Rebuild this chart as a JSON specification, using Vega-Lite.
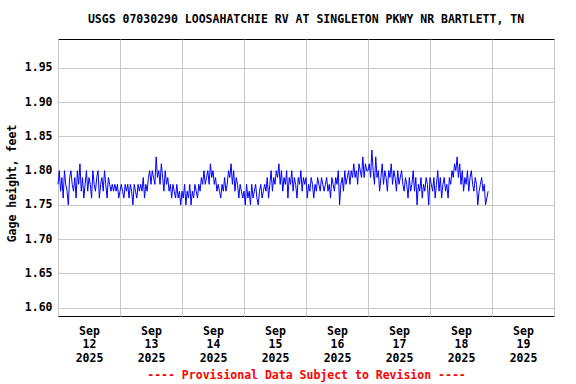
{
"$schema": "https://vega.github.io/schema/vega-lite/v6.json",
"width": 496, "height": 277,
"autosize": "none",
"padding": {"left": 58, "top": 39, "right": 22, "bottom": 68},
"background": "white",
"title": {"text": "USGS 07030290 LOOSAHATCHIE RV AT SINGLETON PKWY NR BARTLETT, TN", "font": "DejaVu Sans Mono", "fontSize": 11.5, "fontWeight": "bold", "color": "black", "anchor": "middle", "baseline": "middle", "offset": 8},
"config": {"view": {"stroke": "black", "strokeWidth": 1}},
"data": {"values": [
{"t":"2025-09-12T00:00","v":1.78},{"t":"2025-09-12T00:30","v":1.80},{"t":"2025-09-12T01:00","v":1.77},{"t":"2025-09-12T01:30","v":1.79},{"t":"2025-09-12T02:00","v":1.76},{"t":"2025-09-12T02:30","v":1.80},{"t":"2025-09-12T03:00","v":1.78},{"t":"2025-09-12T03:30","v":1.77},{"t":"2025-09-12T04:00","v":1.75},{"t":"2025-09-12T04:30","v":1.79},{"t":"2025-09-12T05:00","v":1.80},{"t":"2025-09-12T05:30","v":1.78},{"t":"2025-09-12T06:00","v":1.77},{"t":"2025-09-12T06:30","v":1.79},{"t":"2025-09-12T07:00","v":1.76},{"t":"2025-09-12T07:30","v":1.80},{"t":"2025-09-12T08:00","v":1.78},{"t":"2025-09-12T08:30","v":1.81},{"t":"2025-09-12T09:00","v":1.77},{"t":"2025-09-12T09:30","v":1.79},{"t":"2025-09-12T10:00","v":1.76},{"t":"2025-09-12T10:30","v":1.78},{"t":"2025-09-12T11:00","v":1.80},{"t":"2025-09-12T11:30","v":1.77},{"t":"2025-09-12T12:00","v":1.79},{"t":"2025-09-12T12:30","v":1.78},{"t":"2025-09-12T13:00","v":1.76},{"t":"2025-09-12T13:30","v":1.80},{"t":"2025-09-12T14:00","v":1.78},{"t":"2025-09-12T14:30","v":1.77},{"t":"2025-09-12T15:00","v":1.79},{"t":"2025-09-12T15:30","v":1.80},{"t":"2025-09-12T16:00","v":1.76},{"t":"2025-09-12T16:30","v":1.78},{"t":"2025-09-12T17:00","v":1.79},{"t":"2025-09-12T17:30","v":1.77},{"t":"2025-09-12T18:00","v":1.80},{"t":"2025-09-12T18:30","v":1.78},{"t":"2025-09-12T19:00","v":1.76},{"t":"2025-09-12T19:30","v":1.79},{"t":"2025-09-12T20:00","v":1.78},{"t":"2025-09-12T20:30","v":1.77},{"t":"2025-09-12T21:00","v":1.78},{"t":"2025-09-12T21:30","v":1.77},{"t":"2025-09-12T22:00","v":1.78},{"t":"2025-09-12T22:30","v":1.77},{"t":"2025-09-12T23:00","v":1.78},{"t":"2025-09-12T23:30","v":1.76},
{"t":"2025-09-13T00:00","v":1.77},{"t":"2025-09-13T00:30","v":1.78},{"t":"2025-09-13T01:00","v":1.77},{"t":"2025-09-13T01:30","v":1.76},{"t":"2025-09-13T02:00","v":1.78},{"t":"2025-09-13T02:30","v":1.77},{"t":"2025-09-13T03:00","v":1.78},{"t":"2025-09-13T03:30","v":1.76},{"t":"2025-09-13T04:00","v":1.78},{"t":"2025-09-13T04:30","v":1.77},{"t":"2025-09-13T05:00","v":1.75},{"t":"2025-09-13T05:30","v":1.78},{"t":"2025-09-13T06:00","v":1.77},{"t":"2025-09-13T06:30","v":1.76},{"t":"2025-09-13T07:00","v":1.78},{"t":"2025-09-13T07:30","v":1.77},{"t":"2025-09-13T08:00","v":1.78},{"t":"2025-09-13T08:30","v":1.77},{"t":"2025-09-13T09:00","v":1.79},{"t":"2025-09-13T09:30","v":1.76},{"t":"2025-09-13T10:00","v":1.78},{"t":"2025-09-13T10:30","v":1.77},{"t":"2025-09-13T11:00","v":1.79},{"t":"2025-09-13T11:30","v":1.80},{"t":"2025-09-13T12:00","v":1.78},{"t":"2025-09-13T12:30","v":1.80},{"t":"2025-09-13T13:00","v":1.79},{"t":"2025-09-13T13:30","v":1.78},{"t":"2025-09-13T14:00","v":1.82},{"t":"2025-09-13T14:30","v":1.79},{"t":"2025-09-13T15:00","v":1.80},{"t":"2025-09-13T15:30","v":1.78},{"t":"2025-09-13T16:00","v":1.81},{"t":"2025-09-13T16:30","v":1.79},{"t":"2025-09-13T17:00","v":1.77},{"t":"2025-09-13T17:30","v":1.80},{"t":"2025-09-13T18:00","v":1.78},{"t":"2025-09-13T18:30","v":1.79},{"t":"2025-09-13T19:00","v":1.77},{"t":"2025-09-13T19:30","v":1.78},{"t":"2025-09-13T20:00","v":1.76},{"t":"2025-09-13T20:30","v":1.78},{"t":"2025-09-13T21:00","v":1.77},{"t":"2025-09-13T21:30","v":1.76},{"t":"2025-09-13T22:00","v":1.78},{"t":"2025-09-13T22:30","v":1.76},{"t":"2025-09-13T23:00","v":1.77},{"t":"2025-09-13T23:30","v":1.75},
{"t":"2025-09-14T00:00","v":1.77},{"t":"2025-09-14T00:30","v":1.76},{"t":"2025-09-14T01:00","v":1.78},{"t":"2025-09-14T01:30","v":1.75},{"t":"2025-09-14T02:00","v":1.77},{"t":"2025-09-14T02:30","v":1.76},{"t":"2025-09-14T03:00","v":1.78},{"t":"2025-09-14T03:30","v":1.75},{"t":"2025-09-14T04:00","v":1.77},{"t":"2025-09-14T04:30","v":1.76},{"t":"2025-09-14T05:00","v":1.78},{"t":"2025-09-14T05:30","v":1.77},{"t":"2025-09-14T06:00","v":1.76},{"t":"2025-09-14T06:30","v":1.78},{"t":"2025-09-14T07:00","v":1.77},{"t":"2025-09-14T07:30","v":1.79},{"t":"2025-09-14T08:00","v":1.78},{"t":"2025-09-14T08:30","v":1.80},{"t":"2025-09-14T09:00","v":1.78},{"t":"2025-09-14T09:30","v":1.79},{"t":"2025-09-14T10:00","v":1.80},{"t":"2025-09-14T10:30","v":1.78},{"t":"2025-09-14T11:00","v":1.81},{"t":"2025-09-14T11:30","v":1.79},{"t":"2025-09-14T12:00","v":1.80},{"t":"2025-09-14T12:30","v":1.78},{"t":"2025-09-14T13:00","v":1.79},{"t":"2025-09-14T13:30","v":1.77},{"t":"2025-09-14T14:00","v":1.78},{"t":"2025-09-14T14:30","v":1.77},{"t":"2025-09-14T15:00","v":1.76},{"t":"2025-09-14T15:30","v":1.78},{"t":"2025-09-14T16:00","v":1.77},{"t":"2025-09-14T16:30","v":1.79},{"t":"2025-09-14T17:00","v":1.77},{"t":"2025-09-14T17:30","v":1.78},{"t":"2025-09-14T18:00","v":1.80},{"t":"2025-09-14T18:30","v":1.79},{"t":"2025-09-14T19:00","v":1.81},{"t":"2025-09-14T19:30","v":1.78},{"t":"2025-09-14T20:00","v":1.80},{"t":"2025-09-14T20:30","v":1.77},{"t":"2025-09-14T21:00","v":1.79},{"t":"2025-09-14T21:30","v":1.78},{"t":"2025-09-14T22:00","v":1.76},{"t":"2025-09-14T22:30","v":1.78},{"t":"2025-09-14T23:00","v":1.77},{"t":"2025-09-14T23:30","v":1.76},
{"t":"2025-09-15T00:00","v":1.77},{"t":"2025-09-15T00:30","v":1.75},{"t":"2025-09-15T01:00","v":1.78},{"t":"2025-09-15T01:30","v":1.76},{"t":"2025-09-15T02:00","v":1.77},{"t":"2025-09-15T02:30","v":1.75},{"t":"2025-09-15T03:00","v":1.78},{"t":"2025-09-15T03:30","v":1.76},{"t":"2025-09-15T04:00","v":1.77},{"t":"2025-09-15T04:30","v":1.78},{"t":"2025-09-15T05:00","v":1.76},{"t":"2025-09-15T05:30","v":1.75},{"t":"2025-09-15T06:00","v":1.77},{"t":"2025-09-15T06:30","v":1.78},{"t":"2025-09-15T07:00","v":1.76},{"t":"2025-09-15T07:30","v":1.77},{"t":"2025-09-15T08:00","v":1.78},{"t":"2025-09-15T08:30","v":1.77},{"t":"2025-09-15T09:00","v":1.79},{"t":"2025-09-15T09:30","v":1.76},{"t":"2025-09-15T10:00","v":1.78},{"t":"2025-09-15T10:30","v":1.80},{"t":"2025-09-15T11:00","v":1.77},{"t":"2025-09-15T11:30","v":1.79},{"t":"2025-09-15T12:00","v":1.78},{"t":"2025-09-15T12:30","v":1.80},{"t":"2025-09-15T13:00","v":1.79},{"t":"2025-09-15T13:30","v":1.81},{"t":"2025-09-15T14:00","v":1.78},{"t":"2025-09-15T14:30","v":1.80},{"t":"2025-09-15T15:00","v":1.77},{"t":"2025-09-15T15:30","v":1.79},{"t":"2025-09-15T16:00","v":1.78},{"t":"2025-09-15T16:30","v":1.80},{"t":"2025-09-15T17:00","v":1.76},{"t":"2025-09-15T17:30","v":1.79},{"t":"2025-09-15T18:00","v":1.78},{"t":"2025-09-15T18:30","v":1.80},{"t":"2025-09-15T19:00","v":1.77},{"t":"2025-09-15T19:30","v":1.79},{"t":"2025-09-15T20:00","v":1.78},{"t":"2025-09-15T20:30","v":1.76},{"t":"2025-09-15T21:00","v":1.79},{"t":"2025-09-15T21:30","v":1.78},{"t":"2025-09-15T22:00","v":1.80},{"t":"2025-09-15T22:30","v":1.77},{"t":"2025-09-15T23:00","v":1.79},{"t":"2025-09-15T23:30","v":1.78},
{"t":"2025-09-16T00:00","v":1.79},{"t":"2025-09-16T00:30","v":1.76},{"t":"2025-09-16T01:00","v":1.78},{"t":"2025-09-16T01:30","v":1.77},{"t":"2025-09-16T02:00","v":1.79},{"t":"2025-09-16T02:30","v":1.78},{"t":"2025-09-16T03:00","v":1.76},{"t":"2025-09-16T03:30","v":1.78},{"t":"2025-09-16T04:00","v":1.77},{"t":"2025-09-16T04:30","v":1.79},{"t":"2025-09-16T05:00","v":1.78},{"t":"2025-09-16T05:30","v":1.77},{"t":"2025-09-16T06:00","v":1.79},{"t":"2025-09-16T06:30","v":1.78},{"t":"2025-09-16T07:00","v":1.77},{"t":"2025-09-16T07:30","v":1.78},{"t":"2025-09-16T08:00","v":1.79},{"t":"2025-09-16T08:30","v":1.77},{"t":"2025-09-16T09:00","v":1.78},{"t":"2025-09-16T09:30","v":1.76},{"t":"2025-09-16T10:00","v":1.79},{"t":"2025-09-16T10:30","v":1.78},{"t":"2025-09-16T11:00","v":1.77},{"t":"2025-09-16T11:30","v":1.79},{"t":"2025-09-16T12:00","v":1.78},{"t":"2025-09-16T12:30","v":1.80},{"t":"2025-09-16T13:00","v":1.75},{"t":"2025-09-16T13:30","v":1.78},{"t":"2025-09-16T14:00","v":1.79},{"t":"2025-09-16T14:30","v":1.77},{"t":"2025-09-16T15:00","v":1.80},{"t":"2025-09-16T15:30","v":1.78},{"t":"2025-09-16T16:00","v":1.79},{"t":"2025-09-16T16:30","v":1.80},{"t":"2025-09-16T17:00","v":1.78},{"t":"2025-09-16T17:30","v":1.80},{"t":"2025-09-16T18:00","v":1.79},{"t":"2025-09-16T18:30","v":1.81},{"t":"2025-09-16T19:00","v":1.79},{"t":"2025-09-16T19:30","v":1.80},{"t":"2025-09-16T20:00","v":1.78},{"t":"2025-09-16T20:30","v":1.81},{"t":"2025-09-16T21:00","v":1.80},{"t":"2025-09-16T21:30","v":1.79},{"t":"2025-09-16T22:00","v":1.82},{"t":"2025-09-16T22:30","v":1.79},{"t":"2025-09-16T23:00","v":1.81},{"t":"2025-09-16T23:30","v":1.80},
{"t":"2025-09-17T00:00","v":1.80},{"t":"2025-09-17T00:30","v":1.81},{"t":"2025-09-17T01:00","v":1.79},{"t":"2025-09-17T01:30","v":1.83},{"t":"2025-09-17T02:00","v":1.80},{"t":"2025-09-17T02:30","v":1.78},{"t":"2025-09-17T03:00","v":1.82},{"t":"2025-09-17T03:30","v":1.79},{"t":"2025-09-17T04:00","v":1.80},{"t":"2025-09-17T04:30","v":1.77},{"t":"2025-09-17T05:00","v":1.79},{"t":"2025-09-17T05:30","v":1.81},{"t":"2025-09-17T06:00","v":1.78},{"t":"2025-09-17T06:30","v":1.80},{"t":"2025-09-17T07:00","v":1.79},{"t":"2025-09-17T07:30","v":1.77},{"t":"2025-09-17T08:00","v":1.80},{"t":"2025-09-17T08:30","v":1.79},{"t":"2025-09-17T09:00","v":1.81},{"t":"2025-09-17T09:30","v":1.78},{"t":"2025-09-17T10:00","v":1.80},{"t":"2025-09-17T10:30","v":1.79},{"t":"2025-09-17T11:00","v":1.77},{"t":"2025-09-17T11:30","v":1.80},{"t":"2025-09-17T12:00","v":1.78},{"t":"2025-09-17T12:30","v":1.79},{"t":"2025-09-17T13:00","v":1.80},{"t":"2025-09-17T13:30","v":1.78},{"t":"2025-09-17T14:00","v":1.77},{"t":"2025-09-17T14:30","v":1.79},{"t":"2025-09-17T15:00","v":1.78},{"t":"2025-09-17T15:30","v":1.76},{"t":"2025-09-17T16:00","v":1.79},{"t":"2025-09-17T16:30","v":1.77},{"t":"2025-09-17T17:00","v":1.78},{"t":"2025-09-17T17:30","v":1.80},{"t":"2025-09-17T18:00","v":1.77},{"t":"2025-09-17T18:30","v":1.79},{"t":"2025-09-17T19:00","v":1.75},{"t":"2025-09-17T19:30","v":1.78},{"t":"2025-09-17T20:00","v":1.77},{"t":"2025-09-17T20:30","v":1.79},{"t":"2025-09-17T21:00","v":1.76},{"t":"2025-09-17T21:30","v":1.78},{"t":"2025-09-17T22:00","v":1.77},{"t":"2025-09-17T22:30","v":1.79},{"t":"2025-09-17T23:00","v":1.78},{"t":"2025-09-17T23:30","v":1.75},
{"t":"2025-09-18T00:00","v":1.79},{"t":"2025-09-18T00:30","v":1.78},{"t":"2025-09-18T01:00","v":1.77},{"t":"2025-09-18T01:30","v":1.79},{"t":"2025-09-18T02:00","v":1.76},{"t":"2025-09-18T02:30","v":1.78},{"t":"2025-09-18T03:00","v":1.80},{"t":"2025-09-18T03:30","v":1.77},{"t":"2025-09-18T04:00","v":1.79},{"t":"2025-09-18T04:30","v":1.76},{"t":"2025-09-18T05:00","v":1.78},{"t":"2025-09-18T05:30","v":1.79},{"t":"2025-09-18T06:00","v":1.77},{"t":"2025-09-18T06:30","v":1.78},{"t":"2025-09-18T07:00","v":1.76},{"t":"2025-09-18T07:30","v":1.79},{"t":"2025-09-18T08:00","v":1.78},{"t":"2025-09-18T08:30","v":1.80},{"t":"2025-09-18T09:00","v":1.79},{"t":"2025-09-18T09:30","v":1.81},{"t":"2025-09-18T10:00","v":1.80},{"t":"2025-09-18T10:30","v":1.82},{"t":"2025-09-18T11:00","v":1.79},{"t":"2025-09-18T11:30","v":1.81},{"t":"2025-09-18T12:00","v":1.78},{"t":"2025-09-18T12:30","v":1.80},{"t":"2025-09-18T13:00","v":1.77},{"t":"2025-09-18T13:30","v":1.79},{"t":"2025-09-18T14:00","v":1.78},{"t":"2025-09-18T14:30","v":1.80},{"t":"2025-09-18T15:00","v":1.77},{"t":"2025-09-18T15:30","v":1.79},{"t":"2025-09-18T16:00","v":1.80},{"t":"2025-09-18T16:30","v":1.78},{"t":"2025-09-18T17:00","v":1.77},{"t":"2025-09-18T17:30","v":1.79},{"t":"2025-09-18T18:00","v":1.78},{"t":"2025-09-18T18:30","v":1.75},{"t":"2025-09-18T19:00","v":1.77},{"t":"2025-09-18T19:30","v":1.78},{"t":"2025-09-18T20:00","v":1.79},{"t":"2025-09-18T20:30","v":1.77},{"t":"2025-09-18T21:00","v":1.78},{"t":"2025-09-18T21:30","v":1.75},{"t":"2025-09-18T22:00","v":1.76},{"t":"2025-09-18T22:30","v":1.77}
]},
"mark": {"type": "line", "color": "#0000ff", "strokeWidth": 1},
"encoding": {
  "x": {"field": "t", "type": "temporal",
    "scale": {"domain": [{"year": 2025, "month": "Sep", "date": 12}, {"year": 2025, "month": "Sep", "date": 20}]},
    "axis": {
      "values": [{"year": 2025, "month": "Sep", "date": 12}, {"year": 2025, "month": "Sep", "date": 13}, {"year": 2025, "month": "Sep", "date": 14}, {"year": 2025, "month": "Sep", "date": 15}, {"year": 2025, "month": "Sep", "date": 16}, {"year": 2025, "month": "Sep", "date": 17}, {"year": 2025, "month": "Sep", "date": 18}, {"year": 2025, "month": "Sep", "date": 19}, {"year": 2025, "month": "Sep", "date": 20}],
      "grid": true, "gridColor": "#c8c8c8", "gridWidth": 1, "ticks": false, "domain": false,
      "labelExpr": "date(datum.value) == 20 ? '' : [timeFormat(datum.value, '%b'), timeFormat(datum.value, '%d'), timeFormat(datum.value, '%Y')]",
      "labelOffset": 31, "labelPadding": 9, "labelBaseline": "top", "labelLineHeight": 13.5, "labelAlign": "center",
      "labelFont": "DejaVu Sans Mono", "labelFontSize": 11.5, "labelFontWeight": "bold", "labelColor": "black",
      "labelOverlap": false, "labelBound": false, "labelFlush": false,
      "title": "---- Provisional Data Subject to Revision ----", "titleColor": "red", "titleFont": "DejaVu Sans Mono", "titleFontSize": 11.5, "titleFontWeight": "bold", "titleY": 59, "titleBaseline": "middle"
    }
  },
  "y": {"field": "v", "type": "quantitative",
    "scale": {"domain": [1.588, 1.992], "nice": false, "zero": false},
    "axis": {
      "values": [1.6, 1.65, 1.7, 1.75, 1.8, 1.85, 1.9, 1.95], "format": ".2f",
      "grid": true, "gridColor": "#c8c8c8", "gridWidth": 1, "ticks": false, "domain": false,
      "labelPadding": 6, "labelFont": "DejaVu Sans Mono", "labelFontSize": 11.5, "labelFontWeight": "bold", "labelColor": "black",
      "title": "Gage height, feet", "titleFont": "DejaVu Sans Mono", "titleFontSize": 11.5, "titleFontWeight": "bold", "titleColor": "black",
      "titleX": -46, "titleY": 144, "titleBaseline": "middle"
    }
  }
}
}
